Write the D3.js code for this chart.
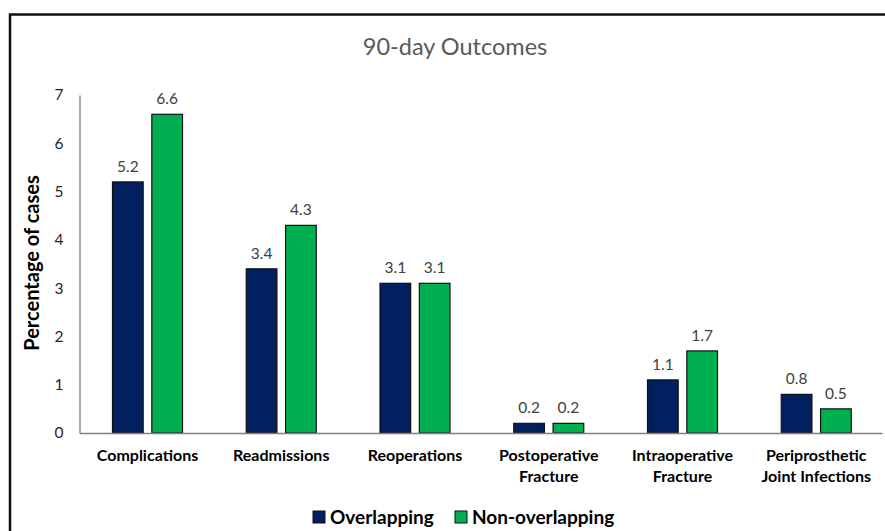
<!DOCTYPE html>
<html>
<head>
<meta charset="utf-8">
<script src="https://cdn.jsdelivr.net/npm/d3@7"></script>
<style>
  html, body { margin: 0; padding: 0; background: #fff; }
  svg { display: block; font-family: Lato, "Open Sans", sans-serif; }
</style>
</head>
<body>
<svg id="chart" width="885" height="531"></svg>
<script>
const categories = [
  ["Complications"],
  ["Readmissions"],
  ["Reoperations"],
  ["Postoperative", "Fracture"],
  ["Intraoperative", "Fracture"],
  ["Periprosthetic", "Joint Infections"]
];
const seriesNames = ["Overlapping", "Non-overlapping"];
const overlapping = [5.2, 3.4, 3.1, 0.2, 1.1, 0.8];
const nonOverlapping = [6.6, 4.3, 3.1, 0.2, 1.7, 0.5];
const yTicks = [0, 1, 2, 3, 4, 5, 6, 7];
const colors = ["#002060", "#00B050"];
const seriesValues = [overlapping, nonOverlapping];

const svg = d3.select("#chart");

// outer frame
svg.append("rect").attr("x", 10).attr("y", 14.5).attr("width", 900).attr("height", 600)
  .attr("fill", "none").attr("stroke", "#111").attr("stroke-width", 2.5);

const plot = { left: 79.5, right: 882, top: 95, bottom: 433 };

const x0 = d3.scaleBand().domain(d3.range(categories.length)).range([plot.left, plot.right]).paddingInner(0).paddingOuter(0);
const x1 = d3.scaleBand().domain([0, 1]).range([33, 33 + 70]).paddingInner(0.22).paddingOuter(0);
const y = d3.scaleLinear().domain([0, 7]).range([plot.bottom, plot.top]);

// title
svg.append("text").attr("x", 455).attr("y", 55).attr("text-anchor", "middle")
  .attr("font-size", 23.5).attr("fill", "#595959").text("90-day Outcomes");

// y axis
const yAxis = d3.axisLeft(y).tickValues(yTicks).tickSize(0).tickPadding(16).tickFormat(d3.format("d"));
const gy = svg.append("g").attr("transform", `translate(${plot.left},0)`).call(yAxis);
gy.select(".domain").attr("stroke", "#808080").attr("stroke-width", 1.3);
gy.selectAll("text").attr("font-size", 15.5).attr("fill", "#262626").attr("font-family", "Lato, sans-serif");

// y title
svg.append("text").attr("transform", "translate(39,263) rotate(-90)").attr("text-anchor", "middle")
  .attr("font-size", 20).attr("font-weight", "bold").attr("fill", "#000").text("Percentage of cases");

// bars
const groups = svg.append("g").selectAll("g").data(categories).join("g")
  .attr("transform", (d, i) => `translate(${x0(i)},0)`);

groups.each(function(cat, i) {
  const g = d3.select(this);
  seriesValues.forEach((vals, s) => {
    const v = vals[i];
    g.append("rect").attr("x", x1(s)).attr("y", y(v)).attr("width", x1.bandwidth())
      .attr("height", y(0) - y(v)).attr("fill", colors[s]).attr("stroke", "#111").attr("stroke-width", 1.2);
    g.append("text").attr("x", x1(s) + x1.bandwidth() / 2).attr("y", y(v) - 10)
      .attr("text-anchor", "middle").attr("font-size", 15.5).attr("fill", "#404040").text(d3.format(".1f")(v));
  });
});

// x axis
const xAxis = d3.axisBottom(x0).tickSize(0).tickFormat("");
const gx = svg.append("g").attr("transform", `translate(0,${plot.bottom})`).call(xAxis);
gx.select(".domain").attr("stroke", "#808080").attr("stroke-width", 1.3);

// category labels
const lbl = svg.append("g").selectAll("text").data(categories).join("text")
  .attr("x", (d, i) => x0(i) + 33 + 35)
  .attr("y", 461).attr("text-anchor", "middle").attr("font-size", 16).attr("font-weight", "bold").attr("fill", "#000");
lbl.each(function(lines) {
  const t = d3.select(this);
  lines.forEach((l, k) => {
    t.append("tspan").attr("x", t.attr("x")).attr("dy", k === 0 ? 0 : 21).text(l);
  });
});

// legend
const legendItems = [
  { name: seriesNames[0], color: colors[0], x: 313 },
  { name: seriesNames[1], color: colors[1], x: 455 }
];
const lg = svg.append("g").selectAll("g").data(legendItems).join("g")
  .attr("transform", d => `translate(${d.x},511)`);
lg.append("rect").attr("width", 12).attr("height", 12).attr("fill", d => d.color).attr("stroke", "#111").attr("stroke-width", 1);
lg.append("text").attr("x", 17).attr("y", 13).attr("font-size", 19).attr("font-weight", "bold").attr("fill", "#000").text(d => d.name);
</script>
</body>
</html>
